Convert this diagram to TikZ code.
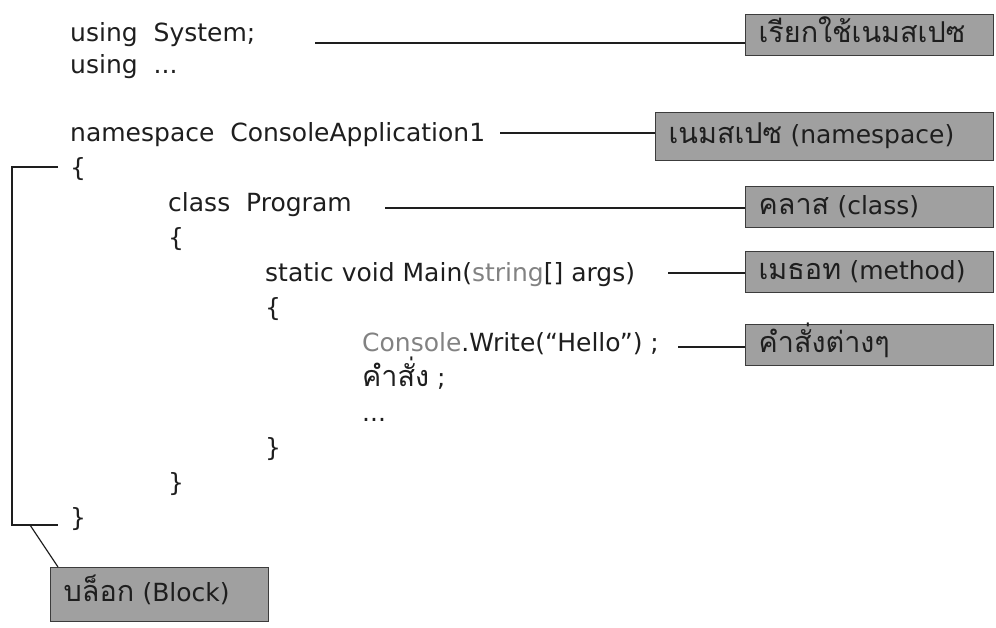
\documentclass[tikz,border=0pt]{standalone}
\usepackage{fontspec}
\setmainfont{DejaVu Sans}
\newfontfamily\thaifont[Script=Thai,Scale=1.15]{Loma}
\usetikzlibrary{positioning}

\definecolor{boxgray}{RGB}{160,160,160}
\definecolor{boxedge}{RGB}{60,60,60}
\definecolor{codegray}{RGB}{130,130,130}
\definecolor{ink}{RGB}{30,30,30}

\begin{document}
\begin{tikzpicture}[
			x=1pt, y=-1pt,
			code/.style={anchor=base west, inner sep=0pt, text=ink, font=\fontsize{25}{30}\selectfont},
			tag/.style={draw=boxedge, fill=boxgray, line width=1.3pt, anchor=north west, minimum height=41pt,
				inner xsep=13pt, inner ysep=0pt, text height=19pt, text depth=5pt,
				align=left, text=ink, font=\fontsize{25}{30}\selectfont},
			lnk/.style={draw=ink, line width=1.2pt}
			]
			\useasboundingbox (0,0) rectangle (996,627);
			
			% code lines
			\node[code] (usesys) at (70,41) {using \ System;};
			\node[code] (usemore) at (70,73) {using \ ...};
			\node[code] (ns) at (70,141) {namespace \ ConsoleApplication1};
			\node[code] (nsopen) at (70,176) {\{};
			\node[code] (cls) at (168,211) {class \ Program};
			\node[code] (clsopen) at (168,246) {\{};
			\node[code] (meth) at (265,281) {static void Main(\textcolor{codegray}{string}[] args)};
			\node[code] (methopen) at (265,316) {\{};
			\node[code] (write) at (362,351) {\textcolor{codegray}{Console}.Write(``Hello'') ;};
			\node[code] (stmt) at (362,386) {{\thaifont คำสั่ง} ;};
			\node[code] (dots) at (362,421) {...};
			\node[code] (methclose) at (265,456) {\}};
			\node[code] (clsclose) at (168,491) {\}};
			\node[code] (nsclose) at (70,526) {\}};
			
			% labels
			\node[tag, minimum width=248pt, text width=222pt] (tusing) at (745,14) {\thaifont เรียกใช้เนมสเปซ};
			\node[tag, minimum width=338pt, text width=312pt, minimum height=48pt] (tns) at (655,112) {{\thaifont เนมสเปซ} (namespace)};
			\node[tag, minimum width=248pt, text width=222pt] (tcls) at (745,186) {{\thaifont คลาส} (class)};
			\node[tag, minimum width=248pt, text width=222pt] (tmeth) at (745,251) {{\thaifont เมธอท} (method)};
			\node[tag, minimum width=248pt, text width=222pt] (tstmt) at (745,324) {\thaifont คำสั่งต่างๆ};
			\node[tag, minimum width=218pt, text width=192pt, minimum height=54pt] (tblock) at (50,567) {{\thaifont บล็อก} (Block)};
			
			% connectors
			\coordinate (c1) at (315,43);
			\coordinate (c2) at (500,133);
			\coordinate (c3) at (385,208);
			\coordinate (c4) at (668,273);
			\coordinate (c5) at (678,347);
			\draw[lnk] (c1) -- (c1 -| tusing.west);
			\draw[lnk] (c2) -- (c2 -| tns.west);
			\draw[lnk] (c3) -- (c3 -| tcls.west);
			\draw[lnk] (c4) -- (c4 -| tmeth.west);
			\draw[lnk] (c5) -- (c5 -| tstmt.west);
			
			% block bracket
			\coordinate (brtop) at (58,167);
			\coordinate (brbot) at (58,525);
			\coordinate (brfoot) at (30,525);
			\draw[lnk] (brtop) -- ++(-46,0) |- (brbot);
			\draw[lnk] (brfoot) -- ([xshift=8pt]tblock.north west);
		\end{tikzpicture}
\end{document}
